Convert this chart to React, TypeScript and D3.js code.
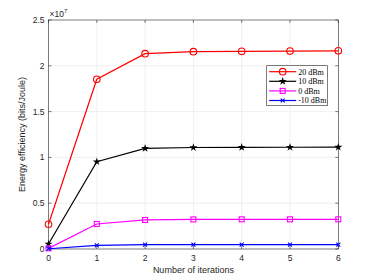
import { useEffect, useRef } from "react";
import * as d3 from "d3";

const iterations = [0, 1, 2, 3, 4, 5, 6];
const xTicks = [0, 1, 2, 3, 4, 5, 6];
const yTicks = [0, 0.5, 1, 1.5, 2, 2.5];
const yTickLabels = ["0", "0.5", "1", "1.5", "2", "2.5"];

const p20 = [0.27, 1.853, 2.132, 2.154, 2.158, 2.161, 2.164];
const p10 = [0.055, 0.953, 1.099, 1.108, 1.11, 1.111, 1.112];
const p0 = [0.007, 0.273, 0.317, 0.323, 0.324, 0.324, 0.324];
const pm10 = [0.003, 0.04, 0.047, 0.048, 0.048, 0.048, 0.048];

const seriesNames = ["20 dBm", "10 dBm", "0 dBm", "-10 dBm"];
const seriesValues = [p20, p10, p0, pm10];
const seriesColors = ["#ff0000", "#000000", "#ff00ff", "#0000ff"];
const seriesMarkers = ["circle", "star", "square", "x"];

const width = 374;
const height = 280;
const marginLeft = 48.5;
const marginRight = 35.7;
const marginTop = 20;
const marginBottom = 31;

export default function App() {
  const ref = useRef<SVGSVGElement>(null);

  useEffect(() => {
    const svg = d3.select(ref.current);
    svg.selectAll("*").remove();

    const x = d3.scaleLinear([0, 6], [marginLeft, width - marginRight]);
    const y = d3.scaleLinear([0, 2.5], [height - marginBottom, marginTop]);
    const x0 = marginLeft, x1 = width - marginRight;
    const y0 = height - marginBottom, y1 = marginTop;

    svg.append("rect").attr("x", x0).attr("y", y1).attr("width", x1 - x0).attr("height", y0 - y1).attr("fill", "#fff");

    // grid
    const grid = svg.append("g").attr("stroke", "#e6e6e6").attr("stroke-width", 0.6);
    xTicks.slice(1, -1).forEach((t) =>
      grid.append("line").attr("x1", x(t)).attr("x2", x(t)).attr("y1", y0).attr("y2", y1)
    );
    yTicks.slice(1, -1).forEach((t) =>
      grid.append("line").attr("x1", x0).attr("x2", x1).attr("y1", y(t)).attr("y2", y(t))
    );

    // axes
    const axisColor = "#262626";
    const ax = svg.append("g").attr("stroke", axisColor).attr("stroke-width", 0.6).attr("fill", "none");
    ax.append("rect").attr("x", x0).attr("y", y1).attr("width", x1 - x0).attr("height", y0 - y1);
    xTicks.forEach((t) => {
      ax.append("line").attr("x1", x(t)).attr("x2", x(t)).attr("y1", y0).attr("y2", y0 - 3);
      ax.append("line").attr("x1", x(t)).attr("x2", x(t)).attr("y1", y1).attr("y2", y1 + 3);
    });
    yTicks.forEach((t) => {
      ax.append("line").attr("x1", x0).attr("x2", x0 + 3).attr("y1", y(t)).attr("y2", y(t));
      ax.append("line").attr("x1", x1).attr("x2", x1 - 3).attr("y1", y(t)).attr("y2", y(t));
    });

    const txt = svg.append("g").attr("font-family", "Liberation Sans, Arial, sans-serif").attr("fill", axisColor);
    xTicks.forEach((t) =>
      txt.append("text").attr("x", x(t)).attr("y", y0 + 12).attr("text-anchor", "middle").attr("font-size", 8.5).text(String(t))
    );
    yTicks.forEach((t, i) =>
      txt.append("text").attr("x", x0 - 4).attr("y", y(t) + 3).attr("text-anchor", "end").attr("font-size", 8.5).text(yTickLabels[i])
    );
    const exp = txt.append("text").attr("x", x0 + 1).attr("y", y1 - 3).attr("font-size", 8.5);
    exp.append("tspan").text("\u00d710");
    exp.append("tspan").attr("dy", -4).attr("font-size", 6).text("7");

    txt.append("text").attr("x", (x0 + x1) / 2).attr("y", 273).attr("text-anchor", "middle").attr("font-size", 9).text("Number of iterations");
    txt.append("text")
      .attr("transform", `translate(25,${(y0 + y1) / 2}) rotate(-90)`)
      .attr("text-anchor", "middle").attr("font-size", 9)
      .text("Energy efficiency (bits/Joule)");

    const drawMarker = (g: any, kind: string, cx: number, cy: number, color: string) => {
      if (kind === "circle") {
        g.append("circle").attr("cx", cx).attr("cy", cy).attr("r", 3.3).attr("fill", "none").attr("stroke", color).attr("stroke-width", 1.1);
      } else if (kind === "star") {
        g.append("path").attr("d", d3.symbol(d3.symbolStar, 20)()).attr("transform", `translate(${cx},${cy})`).attr("fill", color);
      } else if (kind === "square") {
        g.append("rect").attr("x", cx - 2.5).attr("y", cy - 2.5).attr("width", 5).attr("height", 5).attr("fill", "none").attr("stroke", color).attr("stroke-width", 1.1);
      } else {
        g.append("path").attr("d", d3.symbol(d3.symbolX, 12)()).attr("transform", `translate(${cx},${cy})`).attr("fill", "none").attr("stroke", color).attr("stroke-width", 1.1);
      }
    };

    const line = d3.line<number>().x((_, i) => x(iterations[i])).y((d) => y(d));
    seriesValues.forEach((vals, si) => {
      const g = svg.append("g");
      g.append("path").attr("d", line(vals)).attr("fill", "none").attr("stroke", seriesColors[si]).attr("stroke-width", 1.2);
      vals.forEach((v, i) => drawMarker(g, seriesMarkers[si], x(iterations[i]), y(v), seriesColors[si]));
    });

    // legend
    const lg = svg.append("g");
    const lx = 266.7, ly = 65.7, lw = 60.6, lh = 40;
    lg.append("rect").attr("x", lx).attr("y", ly).attr("width", lw).attr("height", lh).attr("fill", "#fff").attr("stroke", axisColor).attr("stroke-width", 0.6);
    seriesNames.forEach((name, i) => {
      const ry = 71.7 + i * 9.6;
      lg.append("line").attr("x1", lx + 2.5).attr("x2", lx + 29.5).attr("y1", ry).attr("y2", ry).attr("stroke", seriesColors[i]).attr("stroke-width", 1.2);
      drawMarker(lg, seriesMarkers[i], lx + 16, ry, seriesColors[i]);
      lg.append("text").attr("x", lx + 31.5).attr("y", ry + 2.8).attr("font-family", "Liberation Serif, Times New Roman, serif").attr("font-size", 8).attr("fill", "#000").text(name);
    });
  }, []);

  return (
    <svg ref={ref} width={width} height={height} style={{ position: "absolute", left: 0, top: 0, background: "#fff" }} />
  );
}
